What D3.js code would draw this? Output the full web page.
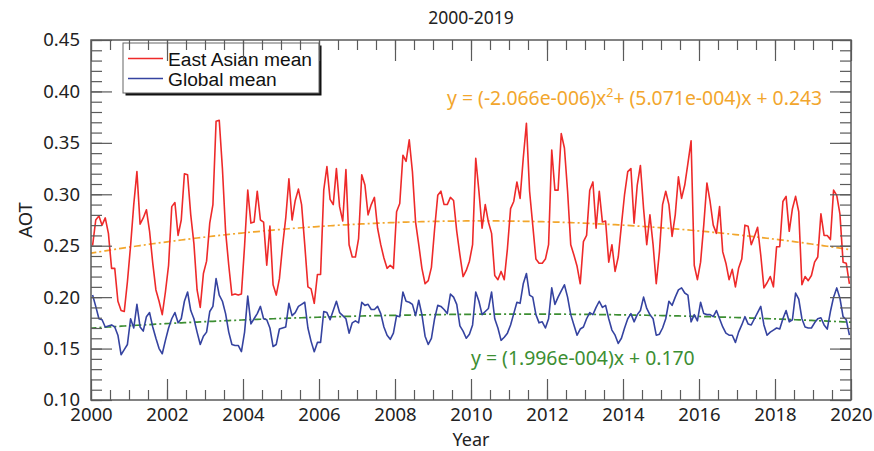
<!DOCTYPE html>
<html><head><meta charset="utf-8">
<script src="https://cdn.jsdelivr.net/npm/d3@7"></script>
<style>body{margin:0;background:#fff}</style>
</head><body>
<svg id="c" width="874" height="451"></svg>
<script>
// ---------- data ----------
const startYear = 2000;
const eastAsianMean = [
0.250,0.275,0.279,0.270,0.277,0.262,0.228,0.228,0.196,0.187,0.186,0.215,
0.250,0.290,0.322,0.271,0.277,0.285,0.264,0.233,0.207,0.196,0.183,0.205,
0.231,0.288,0.292,0.260,0.275,0.320,0.319,0.280,0.252,0.207,0.190,0.223,
0.235,0.272,0.290,0.371,0.372,0.325,0.264,0.231,0.202,0.203,0.202,0.203,
0.250,0.304,0.272,0.273,0.303,0.275,0.273,0.231,0.269,0.212,0.202,0.218,
0.250,0.277,0.315,0.275,0.294,0.305,0.290,0.251,0.210,0.208,0.194,0.222,
0.222,0.304,0.327,0.295,0.290,0.325,0.288,0.274,0.324,0.251,0.239,0.239,
0.257,0.319,0.309,0.280,0.290,0.297,0.267,0.251,0.238,0.228,0.231,0.228,
0.283,0.291,0.338,0.332,0.353,0.322,0.273,0.251,0.228,0.213,0.216,0.229,
0.266,0.299,0.303,0.290,0.290,0.297,0.294,0.264,0.241,0.220,0.226,0.235,
0.251,0.335,0.303,0.267,0.290,0.273,0.262,0.221,0.217,0.225,0.217,0.247,
0.286,0.293,0.312,0.296,0.335,0.369,0.303,0.270,0.237,0.233,0.233,0.237,
0.251,0.343,0.304,0.304,0.359,0.345,0.303,0.251,0.241,0.230,0.213,0.254,
0.260,0.304,0.312,0.267,0.303,0.273,0.274,0.234,0.251,0.225,0.239,0.270,
0.300,0.322,0.325,0.272,0.309,0.328,0.286,0.251,0.280,0.251,0.213,0.244,
0.290,0.303,0.290,0.259,0.280,0.317,0.296,0.309,0.330,0.352,0.231,0.217,
0.234,0.270,0.311,0.293,0.270,0.262,0.288,0.244,0.233,0.217,0.227,0.210,
0.228,0.237,0.270,0.269,0.251,0.259,0.268,0.241,0.209,0.214,0.220,0.210,
0.249,0.249,0.293,0.298,0.264,0.286,0.298,0.283,0.212,0.220,0.216,0.221,
0.234,0.239,0.281,0.260,0.260,0.256,0.304,0.299,0.281,0.234,0.233,0.213
];
const globalMean = [
0.202,0.191,0.179,0.178,0.171,0.172,0.173,0.171,0.163,0.144,0.149,0.154,
0.179,0.170,0.193,0.171,0.167,0.181,0.185,0.171,0.160,0.150,0.145,0.158,
0.170,0.179,0.185,0.175,0.179,0.196,0.205,0.187,0.179,0.166,0.154,0.162,
0.166,0.186,0.191,0.218,0.202,0.196,0.184,0.166,0.154,0.153,0.153,0.147,
0.166,0.201,0.174,0.179,0.184,0.191,0.179,0.178,0.170,0.152,0.154,0.169,
0.170,0.171,0.194,0.182,0.185,0.191,0.193,0.195,0.170,0.157,0.147,0.156,
0.156,0.186,0.185,0.178,0.187,0.196,0.185,0.182,0.179,0.165,0.175,0.177,
0.175,0.195,0.192,0.193,0.188,0.188,0.191,0.184,0.171,0.163,0.159,0.165,
0.182,0.181,0.205,0.196,0.195,0.193,0.182,0.197,0.183,0.162,0.154,0.160,
0.179,0.192,0.191,0.188,0.184,0.203,0.200,0.193,0.172,0.167,0.160,0.164,
0.173,0.205,0.196,0.183,0.186,0.189,0.205,0.179,0.170,0.158,0.161,0.165,
0.173,0.184,0.195,0.194,0.213,0.223,0.202,0.200,0.183,0.175,0.176,0.170,
0.179,0.209,0.193,0.200,0.206,0.212,0.200,0.183,0.173,0.163,0.169,0.171,
0.179,0.185,0.183,0.190,0.196,0.190,0.192,0.179,0.168,0.163,0.155,0.160,
0.170,0.179,0.184,0.176,0.183,0.187,0.200,0.189,0.183,0.179,0.163,0.164,
0.170,0.179,0.196,0.192,0.200,0.207,0.209,0.204,0.202,0.176,0.183,0.177,
0.195,0.184,0.183,0.183,0.181,0.187,0.179,0.171,0.165,0.163,0.163,0.156,
0.166,0.173,0.181,0.174,0.173,0.179,0.185,0.191,0.173,0.163,0.166,0.168,
0.170,0.169,0.179,0.187,0.176,0.178,0.204,0.198,0.179,0.171,0.170,0.170,
0.175,0.179,0.180,0.173,0.169,0.186,0.200,0.209,0.199,0.181,0.178,0.163
];
// fitted trend coefficients [c0, c1, c2] for y = c0 + c1*x + c2*x^2, x = month index
const eastAsianFit = [0.243, 5.071e-4, -2.066e-6];
const globalFit = [0.170, 1.996e-4, -7.36e-7];
const xTickLabels = [2000,2002,2004,2006,2008,2010,2012,2014,2016,2018,2020];
const yTickLabels = [0.10,0.15,0.20,0.25,0.30,0.35,0.40,0.45];
const seriesNames = ["East Asian mean","Global mean"];
const titleText = "2000-2019";
const eqEast = ["y = (-2.066e-006)x","2","+ (5.071e-004)x + 0.243"];
const eqGlobal = "y = (1.996e-004)x + 0.170";

// ---------- layout ----------
const L = 91, R = 851, T = 40, B = 400;
const svg = d3.select("#c");
const x = d3.scaleLinear().domain([2000, 2020]).range([L, R]);
const y = d3.scaleLinear().domain([0.10, 0.45]).range([B, T]);
const axisColor = "#5a5a5a";
const font = "'Noto Sans', sans-serif";
const monthX = i => x(startYear + (i + 0.5) / 12);

svg.append("defs").append("clipPath").attr("id","pc")
  .append("rect").attr("x",L).attr("y",T).attr("width",R-L).attr("height",B-T);
const plot = svg.append("g").attr("clip-path","url(#pc)");

// trend curves
function trendPts(c){
  const pts=[];
  for(let t=-1;t<=241;t+=1){ pts.push([t, c[0]+c[1]*t+c[2]*t*t]); }
  return pts;
}
const trendLine = d3.line().x(d=>monthX(d[0])).y(d=>y(d[1]));
plot.append("path").attr("d",trendLine(trendPts(eastAsianFit)))
  .attr("fill","none").attr("stroke","#f2a62c").attr("stroke-width",1.7)
  .attr("stroke-dasharray","7,3,2,3");
plot.append("path").attr("d",trendLine(trendPts(globalFit)))
  .attr("fill","none").attr("stroke","#3c8e32").attr("stroke-width",1.7)
  .attr("stroke-dasharray","7,3,2,3");

// data lines
const line = d3.line().x((d,i)=>monthX(i)).y(d=>y(d));
plot.append("path").attr("d",line(eastAsianMean)).attr("fill","none")
  .attr("stroke","#ee2a2a").attr("stroke-width",1.6).attr("stroke-linejoin","round");
plot.append("path").attr("d",line(globalMean)).attr("fill","none")
  .attr("stroke","#3543a0").attr("stroke-width",1.6).attr("stroke-linejoin","round");

// equations
const eq1 = svg.append("text").attr("x",447).attr("y",105)
  .attr("font-family",font).attr("font-size",19.4).attr("fill","#f2a62c");
eq1.append("tspan").text(eqEast[0]);
eq1.append("tspan").attr("dy",-8).attr("font-size",12.5).text(eqEast[1]);
eq1.append("tspan").attr("dy",8).text(eqEast[2]);
svg.append("text").attr("x",471).attr("y",365)
  .attr("font-family",font).attr("font-size",19.4).attr("fill","#3c8e32").text(eqGlobal);

// legend
const lg = svg.append("g");
lg.append("rect").attr("x",125.5).attr("y",45.5).attr("width",196).attr("height",50).attr("fill","#111");
lg.append("rect").attr("x",123).attr("y",43).attr("width",196).attr("height",50)
  .attr("fill","#fff").attr("stroke","#666").attr("stroke-width",1);
const legColors = ["#ee2a2a","#3543a0"];
seriesNames.forEach((n,k)=>{
  const yy = 58.5 + k*20;
  lg.append("line").attr("x1",128).attr("x2",163).attr("y1",yy).attr("y2",yy)
    .attr("stroke",legColors[k]).attr("stroke-width",1.7);
  lg.append("text").attr("x",168).attr("y",yy+7).attr("font-family","'Liberation Sans', Arial, sans-serif")
    .attr("font-size",19.2).attr("fill","#111").text(n);
});

// axes
const xMinor = d3.range(2000, 2020.01, 0.5);
const yMinor = d3.range(0, 36).map(k => +(0.10 + k*0.01).toFixed(2));
function styleAxis(g){
  g.select(".domain").remove();
  g.selectAll(".tick line").attr("stroke",axisColor).attr("stroke-width",1.2);
  g.selectAll("text").attr("font-family",font).attr("font-size",18.5).attr("fill","#222");
}
// bottom
svg.append("g").attr("transform",`translate(0,${B})`)
  .call(d3.axisBottom(x).tickValues(xMinor).tickSize(-10).tickFormat("")).call(styleAxis);
svg.append("g").attr("transform",`translate(0,${B})`)
  .call(d3.axisBottom(x).tickValues(xTickLabels).tickSize(-21).tickPadding(8).tickFormat(d3.format("d"))).call(styleAxis);
// top
svg.append("g").attr("transform",`translate(0,${T})`)
  .call(d3.axisTop(x).tickValues(xMinor).tickSize(-10).tickFormat("")).call(styleAxis);
svg.append("g").attr("transform",`translate(0,${T})`)
  .call(d3.axisTop(x).tickValues(xTickLabels).tickSize(-21).tickFormat("")).call(styleAxis);
// left
svg.append("g").attr("transform",`translate(${L},0)`)
  .call(d3.axisLeft(y).tickValues(yMinor).tickSize(-11).tickFormat("")).call(styleAxis);
svg.append("g").attr("transform",`translate(${L},0)`)
  .call(d3.axisLeft(y).tickValues(yTickLabels).tickSize(-21).tickPadding(11).tickFormat(d3.format(".2f"))).call(styleAxis);
// right
svg.append("g").attr("transform",`translate(${R},0)`)
  .call(d3.axisRight(y).tickValues(yMinor).tickSize(-11).tickFormat("")).call(styleAxis);
svg.append("g").attr("transform",`translate(${R},0)`)
  .call(d3.axisRight(y).tickValues(yTickLabels).tickSize(-21).tickFormat("")).call(styleAxis);

// frame
svg.append("rect").attr("x",L).attr("y",T).attr("width",R-L).attr("height",B-T)
  .attr("fill","none").attr("stroke",axisColor).attr("stroke-width",1.5);

// titles
svg.append("text").attr("x",(L+R)/2).attr("y",24).attr("text-anchor","middle")
  .attr("font-family",font).attr("font-size",17.5).attr("fill","#222").text(titleText);
svg.append("text").attr("x",(L+R)/2).attr("y",446).attr("text-anchor","middle")
  .attr("font-family",font).attr("font-size",18).attr("fill","#222").text("Year");
svg.append("text").attr("transform",`translate(32,${(T+B)/2}) rotate(-90)`).attr("text-anchor","middle")
  .attr("font-family",font).attr("font-size",18.5).attr("fill","#222").text("AOT");
</script>
</body></html>
